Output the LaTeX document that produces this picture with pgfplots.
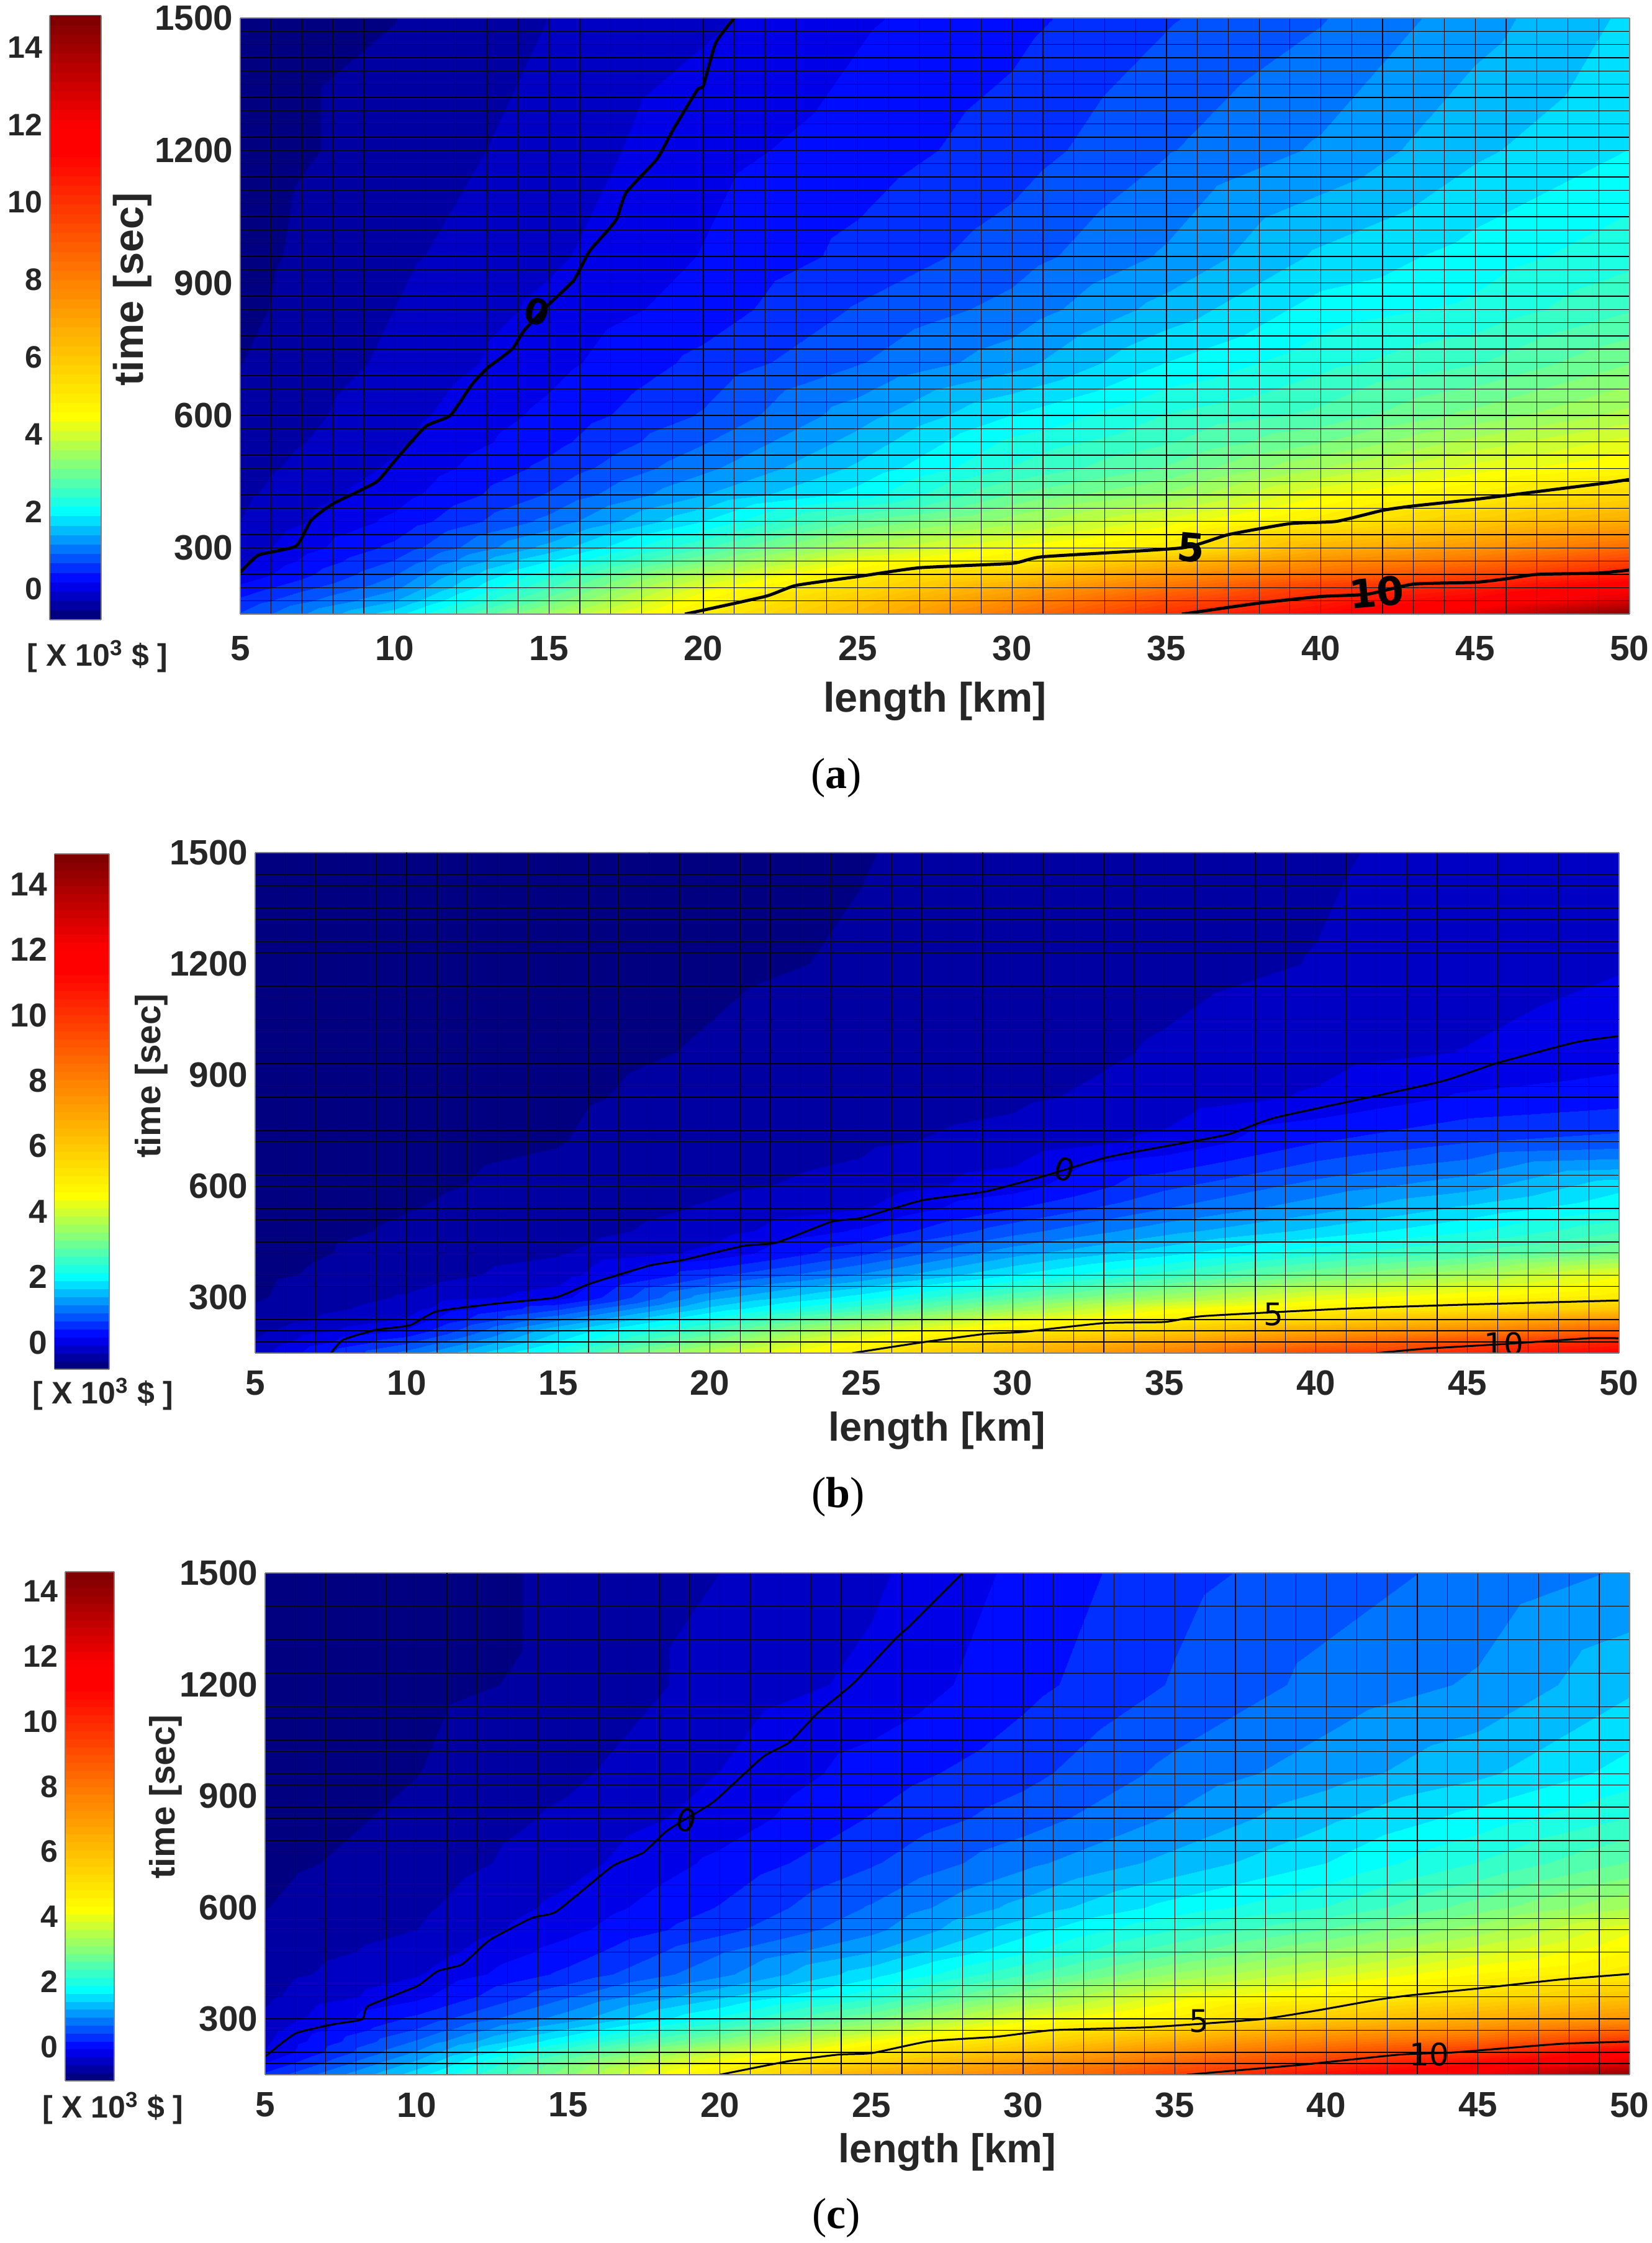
\documentclass[border=0pt]{standalone}
\usepackage{pgfplots}
\usepackage{fontspec}
\setmainfont{Liberation Sans}
\newfontfamily\capfont{Liberation Serif}
\newfontfamily\ctrfont{DejaVu Sans}
\pgfplotsset{compat=1.18}
\definecolor{txt}{RGB}{38,38,38}
\pgfplotsset{
  colormap={base}{rgb(0pt)=(0,0,.5) rgb(5.8pt)=(0,0,1) rgb(17.3pt)=(0,1,1) rgb(25pt)=(.5,1,.5) rgb(33.3pt)=(1,1,0) rgb(56.3pt)=(1,.5,0) rgb(77.5pt)=(1,0,0) rgb(82pt)=(1,0,0) rgb(100pt)=(.5,0,0)},
  colormap={band}{samples of colormap=(64 of base)},
  heat/.style={
    scale only axis, view={0}{90},
    xmin=5,xmax=50,ymin=150,ymax=1500,
    xtick={5,10,...,50}, ytick={300,600,...,1500},
    minor xtick={5,6,...,50}, minor ytick={150,180,...,1500},
    grid=minor,
    minor grid style={black,line width=0.35pt},
    major tick length=0pt, minor tick length=0pt,
    axis on top,
    axis line style={gray,line width=0.4pt},
    colormap name=band,
    colormap access=piecewise constant,
    /pgf/number format/assume math mode=true,
    /pgf/number format/set thousands separator={},
    tick label style={text=txt},
    label style={text=txt},
    colorbar shift/.style={},
    colorbar, colorbar sampled,
  },
  cbar/.style={
    anchor=south west, at={(parent axis.south west)},
    samples=65,
    ytick={0,2,...,14},
    yticklabel pos=left,
    major tick length=0pt, minor tick length=0pt,
    axis line style={gray,line width=0.4pt},
    /pgf/number format/assume math mode=true,
    tick label style={text=txt},
  },
  msh/.style={surf,shader=interp,mesh/cols=10,mesh/rows=16,mesh/ordering=y varies},
}
\begin{document}
\begin{tikzpicture}[x=1pt,y=1pt]
\useasboundingbox (0,0) rectangle (798,1083.6);
% ---------- (a)
\begin{axis}[heat, at={(116.1pt,786.9pt)}, anchor=south west, width=671.4pt, height=288pt,
  point meta min=-0.79, point meta max=14.83,
  extra y ticks={750}, extra y tick labels={}, extra y tick style={grid=major,major grid style={black,line width=0.5pt}},
  tick label style={font=\bfseries\fontsize{17}{17}\selectfont},
  xticklabel style={yshift=-7pt},
  xlabel={length [km]}, ylabel={time [sec]},
  label style={font=\bfseries\fontsize{20}{20}\selectfont},
  xlabel style={yshift=-3.3pt}, ylabel style={xshift=13pt,yshift=-5.5pt},
  colorbar style={cbar,xshift=-92.1pt,yshift=-2.7pt,width=24.9pt,height=292pt,
    tick label style={font=\bfseries\fontsize{15}{15}\selectfont}},
]
\addplot3[msh] table {
x y z
5 150 0.7
5 180 0.5
5 210 0.25
5 240 0.0
5 270 -0.1
5 300 -0.2
5 360 -0.3
5 420 -0.35
5 480 -0.4
5 540 -0.45
5 600 -0.5
5 720 -0.55
5 840 -0.6
5 960 -0.62
5 1200 -0.65
5 1500 -0.65
10 150 1.8
10 180 1.4
10 210 1.1
10 240 0.9
10 270 0.7
10 300 0.5
10 360 0.25
10 420 0.08
10 480 -0.02
10 540 -0.1
10 600 -0.15
10 720 -0.25
10 840 -0.3
10 960 -0.35
10 1200 -0.45
10 1500 -0.55
15 150 3.5
15 180 3.0
15 210 2.6
15 240 2.3
15 270 1.9
15 300 1.5
15 360 1.0
15 420 0.7
15 480 0.5
15 540 0.35
15 600 0.25
15 720 0.1
15 840 0.0
15 960 -0.1
15 1200 -0.2
15 1500 -0.3
20 150 5.0
20 180 4.6
20 210 4.2
20 240 3.7
20 270 3.1
20 300 2.6
20 360 1.9
20 420 1.4
20 480 1.1
20 540 0.9
20 600 0.7
20 720 0.5
20 840 0.3
20 960 0.2
20 1200 0.1
20 1500 -0.1
25 150 6.4
25 180 6.0
25 210 5.4
25 240 4.9
25 270 4.3
25 300 3.7
25 360 2.9
25 420 2.0
25 480 1.7
25 540 1.5
25 600 1.3
25 720 0.9
25 840 0.7
25 960 0.5
25 1200 0.3
25 1500 0.15
30 150 8.3
30 180 7.6
30 210 6.8
30 240 5.8
30 270 4.9
30 300 4.4
30 360 3.5
30 420 2.9
30 480 2.4
30 540 2.2
30 600 1.9
30 720 1.3
30 840 1.0
30 960 0.8
30 1200 0.55
30 1500 0.35
35 150 10.1
35 180 9.3
35 210 8.4
35 240 7.4
35 270 6.3
35 300 5.0
35 360 4.2
35 420 3.4
35 480 2.9
35 540 2.6
35 600 2.4
35 720 1.9
35 840 1.5
35 960 1.2
35 1200 0.9
35 1500 0.65
40 150 11.2
40 180 10.5
40 210 9.8
40 240 8.6
40 270 7.6
40 300 6.6
40 360 5.0
40 420 4.3
40 480 3.6
40 540 3.1
40 600 2.7
40 720 2.3
40 840 2.0
40 960 1.7
40 1200 1.2
40 1500 0.9
45 150 12.6
45 180 11.4
45 210 10.6
45 240 9.5
45 270 8.4
45 300 7.4
45 360 5.9
45 420 4.9
45 480 4.2
45 540 3.7
45 600 3.2
45 720 2.6
45 840 2.2
45 960 2.0
45 1200 1.6
45 1500 1.3
50 150 14.6
50 180 12.8
50 210 11.8
50 240 10.6
50 270 9.6
50 300 8.6
50 360 6.8
50 420 5.6
50 480 4.6
50 540 4.2
50 600 3.7
50 720 3.1
50 840 2.6
50 960 2.3
50 1200 1.9
50 1500 1.7
};
\addplot[black,line width=1.5pt,smooth,tension=0.3] coordinates {(5,245)(5.6,284)(6.8,304)(7.3,363)(8,400)(9.4,449)(10,497)(11,575)(11.8,600)(12.5,670)(13,707)(13.8,750)(14.2,793)(15,852)(15.8,906)(16.3,971)(16.9,1019)(17.2,1046)(17.5,1105)(18.5,1181)(19,1245)(19.8,1337)(20,1347)(20.4,1444)(21,1500)};
\addplot[black,line width=1.5pt,smooth,tension=0.3] coordinates {(19.4,150)(22,190)(23,215)(25,235)(27,255)(30,265)(31,280)(35.5,300)(37,330)(39,355)(40.5,360)(42,385)(43,395)(45,410)(49,445)(50,455)};
\addplot[black,line width=1.5pt,smooth,tension=0.3] coordinates {(35.5,150)(38,175)(40,190)(41.5,195)(43,218)(45,222)(46,230)(47,240)(49,243)(50,250)};
\node[font=\ctrfont\bfseries\fontsize{17}{17}\selectfont,rotate=-15] at (axis cs:14.6,835) {0};
\node[font=\ctrfont\bfseries\fontsize{19}{19}\selectfont,rotate=-5] at (axis cs:35.8,300) {5};
\node[font=\ctrfont\bfseries\fontsize{19}{19}\selectfont,rotate=5] at (axis cs:41.8,200) {10};
\end{axis}
% ---------- (b)
\begin{axis}[heat, at={(123.3pt,429.9pt)}, anchor=south west, width=659.1pt, height=241.8pt,
  point meta min=-0.82, point meta max=14.93,
  minor ytick={1440,1410,1350,1320,1260,1230,1140,1110,1050,1020,960,930,870,840,750,720,630,600,540,510,450,420,360,330,240,210,180},
  extra y ticks={1140,1050,960,930,750,720,540,450,330,240,210}, extra y tick labels={}, extra y tick style={grid=major,major grid style={black,line width=0.5pt}},
  extra x ticks={10,18,29,38}, extra x tick labels={}, extra x tick style={grid=major,major grid style={black,line width=0.5pt}},
  tick label style={font=\bfseries\fontsize{17}{17}\selectfont},
  xticklabel style={yshift=-5pt},
  xlabel={length [km]}, ylabel={time [sec]},
  xlabel style={font=\bfseries\fontsize{19.5}{19.5}\selectfont,yshift=-1pt},
  ylabel style={font=\bfseries\fontsize{17}{17}\selectfont,xshift=13pt,yshift=-6pt},
  colorbar style={cbar,xshift=-97.05pt,yshift=-7.8pt,width=26.5pt,height=249pt,
    tick label style={font=\bfseries\fontsize{16}{16}\selectfont}},
]
\addplot3[msh] table {
x y z
5 150 -0.2
5 180 -0.3
5 210 -0.4
5 240 -0.5
5 270 -0.55
5 300 -0.6
5 360 -0.62
5 420 -0.65
5 480 -0.66
5 540 -0.67
5 600 -0.68
5 720 -0.69
5 840 -0.7
5 960 -0.7
5 1200 -0.7
5 1500 -0.7
10 150 1.0
10 180 0.6
10 210 0.2
10 240 -0.05
10 270 -0.2
10 300 -0.3
10 360 -0.45
10 420 -0.5
10 480 -0.55
10 540 -0.58
10 600 -0.6
10 720 -0.62
10 840 -0.64
10 960 -0.66
10 1200 -0.68
10 1500 -0.68
15 150 2.3
15 180 1.9
15 210 1.6
15 240 1.1
15 270 0.6
15 300 0.05
15 360 -0.2
15 420 -0.35
15 480 -0.45
15 540 -0.5
15 600 -0.53
15 720 -0.58
15 840 -0.6
15 960 -0.62
15 1200 -0.66
15 1500 -0.66
20 150 3.8
20 180 3.2
20 210 2.7
20 240 2.2
20 270 1.7
20 300 1.3
20 360 0.6
20 420 -0.02
20 480 -0.2
20 540 -0.3
20 600 -0.38
20 720 -0.47
20 840 -0.52
20 960 -0.56
20 1200 -0.6
20 1500 -0.62
25 150 5.0
25 180 4.5
25 210 3.9
25 240 3.2
25 270 2.5
25 300 2.0
25 360 1.2
25 420 0.6
25 480 0.2
25 540 -0.1
25 600 -0.25
25 720 -0.37
25 840 -0.45
25 960 -0.5
25 1200 -0.56
25 1500 -0.58
30 150 6.6
30 180 5.8
30 210 4.9
30 240 4.2
30 270 3.4
30 300 2.8
30 360 1.9
30 420 1.3
30 480 0.8
30 540 0.4
30 600 0.05
30 720 -0.25
30 840 -0.37
30 960 -0.44
30 1200 -0.5
30 1500 -0.52
35 150 8.0
35 180 7.0
35 210 5.8
35 240 4.9
35 270 4.3
35 300 3.5
35 360 2.5
35 420 1.8
35 480 1.3
35 540 0.9
35 600 0.6
35 720 -0.02
35 840 -0.23
35 960 -0.3
35 1200 -0.4
35 1500 -0.42
40 150 9.6
40 180 8.3
40 210 7.0
40 240 5.6
40 270 4.8
40 300 4.2
40 360 3.1
40 420 2.3
40 480 1.7
40 540 1.3
40 600 1.0
40 720 0.4
40 840 -0.05
40 960 -0.18
40 1200 -0.32
40 1500 -0.36
45 150 10.4
45 180 9.5
45 210 7.9
45 240 6.5
45 270 5.2
45 300 4.6
45 360 3.6
45 420 2.7
45 480 2.1
45 540 1.7
45 600 1.3
45 720 0.65
45 840 0.2
45 960 -0.07
45 1200 -0.2
45 1500 -0.25
50 150 11.4
50 180 10.5
50 210 9.0
50 240 7.5
50 270 6.0
50 300 5.0
50 360 4.3
50 420 3.1
50 480 2.6
50 540 2.1
50 600 1.8
50 720 0.75
50 840 0.3
50 960 0.05
50 1200 -0.1
50 1500 -0.1
};
\addplot[black,line width=0.9pt,smooth,tension=0.3] coordinates {(7.5,150)(7.9,186)(9,213)(10.1,225)(11,263)(13,284)(14.9,300)(16,336)(18,386)(19.1,401)(21.1,439)(22.2,448)(24,504)(25,515)(27,562)(29.1,586)(31,627)(33.2,680)(37,738)(38.7,786)(44,880)(46,933)(48.6,989)(50,1005)};
\addplot[black,line width=0.9pt,smooth,tension=0.3] coordinates {(24.7,150)(27,179)(29.1,202)(30.3,207)(33,231)(35,234)(36.3,250)(41,270)(45,281)(50,292)};
\addplot[black,line width=0.9pt,smooth,tension=0.3] coordinates {(42,150)(43.6,162)(46.3,175)(49,190)(50,190)};
\node[font=\ctrfont\fontsize{15}{15}\selectfont,rotate=-15] at (axis cs:31.7,645) {0};
\node[font=\ctrfont\fontsize{15}{15}\selectfont] at (axis cs:38.6,255) {5};
\node[font=\ctrfont\fontsize{15}{15}\selectfont] at (axis cs:46.2,175) {10};
\end{axis}
% ---------- (c)
\begin{axis}[heat, at={(128.1pt,81.3pt)}, anchor=south west, width=659.4pt, height=242.4pt,
  point meta min=-1.05, point meta max=14.6,
  minor ytick={1410,1320,1230,1140,1110,1050,1020,960,930,870,840,780,750,660,630,570,540,480,390,360,300,270,210,180},
  extra y ticks={1230,1140,1050,390,300,210,180}, extra y tick labels={}, extra y tick style={grid=major,major grid style={black,line width=0.5pt}},
  extra x ticks={11,26,41}, extra x tick labels={}, extra x tick style={grid=major,major grid style={black,line width=0.5pt}},
  tick label style={font=\bfseries\fontsize{17}{17}\selectfont},
  xticklabel style={yshift=-5pt},
  xlabel={length [km]}, ylabel={time [sec]},
  xlabel style={font=\bfseries\fontsize{19.5}{19.5}\selectfont,yshift=-1pt},
  ylabel style={font=\bfseries\fontsize{17}{17}\selectfont,xshift=13pt,yshift=-8pt},
  colorbar style={cbar,xshift=-96.6pt,yshift=-3pt,width=23.7pt,height=246pt,
    tick label style={font=\bfseries\fontsize{15}{15}\selectfont}},
]
\addplot3[msh,point meta={z-0.26}] table {
x y z
5 150 0.5
5 180 0.2
5 210 -0.05
5 240 -0.1
5 270 -0.15
5 300 -0.25
5 360 -0.35
5 420 -0.4
5 480 -0.45
5 540 -0.5
5 600 -0.55
5 720 -0.6
5 840 -0.65
5 960 -0.7
5 1200 -0.72
5 1500 -0.72
10 150 1.8
10 180 1.5
10 210 1.2
10 240 0.95
10 270 0.7
10 300 0.5
10 360 0.12
10 420 -0.08
10 480 -0.2
10 540 -0.3
10 600 -0.35
10 720 -0.45
10 840 -0.5
10 960 -0.55
10 1200 -0.6
10 1500 -0.65
15 150 3.3
15 180 3.1
15 210 2.6
15 240 2.1
15 270 1.7
15 300 1.3
15 360 0.9
15 420 0.5
15 480 0.3
15 540 0.12
15 600 0.02
15 720 -0.15
15 840 -0.25
15 960 -0.35
15 1200 -0.5
15 1500 -0.5
20 150 5.0
20 180 4.5
20 210 3.9
20 240 3.2
20 270 2.7
20 300 2.2
20 360 1.6
20 420 1.1
20 480 0.9
20 540 0.6
20 600 0.45
20 720 0.25
20 840 0.05
20 960 -0.05
20 1200 -0.2
20 1500 -0.3
25 150 6.8
25 180 5.8
25 210 5.0
25 240 4.4
25 270 3.7
25 300 3.1
25 360 2.3
25 420 1.8
25 480 1.4
25 540 1.1
25 600 0.95
25 720 0.65
25 840 0.45
25 960 0.3
25 1200 0.0
25 1500 -0.1
30 150 8.0
30 180 7.3
30 210 6.3
30 240 5.5
30 270 4.8
30 300 4.2
30 360 3.3
30 420 2.6
30 480 2.1
30 540 1.8
30 600 1.5
30 720 1.1
30 840 0.8
30 960 0.6
30 1200 0.35
30 1500 0.25
35 150 9.7
35 180 8.8
35 210 7.8
35 240 6.8
35 270 5.8
35 300 4.9
35 360 4.2
35 420 3.4
35 480 2.8
35 540 2.4
35 600 2.0
35 720 1.5
35 840 1.2
35 960 1.0
35 1200 0.7
35 1500 0.6
40 150 11.0
40 180 10.0
40 210 9.0
40 240 8.0
40 270 7.0
40 300 6.0
40 360 4.7
40 420 4.0
40 480 3.4
40 540 2.9
40 600 2.4
40 720 1.9
40 840 1.6
40 960 1.3
40 1200 1.0
40 1500 0.8
45 150 12.3
45 180 11.2
45 210 10.0
45 240 8.8
45 270 7.7
45 300 6.8
45 360 5.4
45 420 4.6
45 480 4.0
45 540 3.5
45 600 3.0
45 720 2.4
45 840 2.0
45 960 1.6
45 1200 1.2
45 1500 1.0
50 150 14.5
50 180 12.7
50 210 11.5
50 240 10.0
50 270 8.7
50 300 7.5
50 360 6.1
50 420 5.0
50 480 4.6
50 540 4.3
50 600 3.6
50 720 2.9
50 840 2.4
50 960 2.0
50 1200 1.6
50 1500 1.2
};
\addplot[black,line width=0.9pt,smooth,tension=0.3] coordinates {(5,199)(6,261)(7.2,285)(8.2,299)(8.4,335)(10,388)(10.7,429)(11.5,447)(12.4,512)(13.8,572)(14.6,589)(16.4,708)(17,731)(17.5,749)(18.2,803)(18.7,830)(19.8,885)(21.4,1004)(22.3,1045)(23.2,1122)(24,1175)(24.5,1211)(25.8,1324)(26.2,1353)(27,1418)(28,1500)};
\addplot[black,line width=0.9pt,smooth,tension=0.3] coordinates {(20,150)(22.3,187)(23.9,204)(25,208)(26.9,240)(29.1,252)(31,270)(34.2,278)(37.8,299)(39.7,323)(41.7,352)(42.8,364)(45,382)(47.7,406)(50,421)};
\addplot[black,line width=0.9pt,smooth,tension=0.3] coordinates {(35.4,150)(39.2,177)(42.4,204)(44.2,210)(47.7,233)(50,239)};
\node[font=\ctrfont\fontsize{15}{15}\selectfont,rotate=-15] at (axis cs:18.9,835) {0};
\node[font=\ctrfont\fontsize{15}{15}\selectfont] at (axis cs:35.8,295) {5};
\node[font=\ctrfont\fontsize{15}{15}\selectfont] at (axis cs:43.4,205) {10};
\end{axis}
% ---------- annotations
\node[font=\bfseries\fontsize{15}{15}\selectfont,text=txt] at (47.1,766.5) {[ X 10\textsuperscript{3} \$ ]};
\node[font=\bfseries\fontsize{15}{15}\selectfont,text=txt] at (49.8,410.1) {[ X 10\textsuperscript{3} \$ ]};
\node[font=\bfseries\fontsize{15}{15}\selectfont,text=txt] at (54.6,65.1) {[ X 10\textsuperscript{3} \$ ]};
\node[font=\capfont\fontsize{21}{21}\selectfont] at (404.1,707.7) {(\textbf{a})};
\node[font=\capfont\fontsize{21}{21}\selectfont] at (405,360.3) {(\textbf{b})};
\node[font=\capfont\fontsize{21}{21}\selectfont] at (404.1,12) {(\textbf{c})};
\end{tikzpicture}
\end{document}
